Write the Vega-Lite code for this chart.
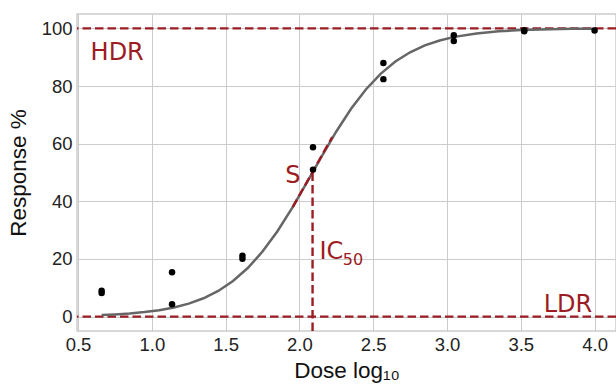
{
  "$schema": "https://vega.github.io/schema/vega-lite/v6.json",
  "width": 539,
  "height": 317,
  "autosize": {"type": "none"},
  "padding": {"left": 77, "top": 14, "right": 0, "bottom": 53},
  "config": {
    "view": {"stroke": "#cccccc", "strokeWidth": 1.5},
    "axis": {
      "grid": true, "gridColor": "#cccccc", "gridWidth": 1,
      "domain": false, "ticks": false, "tickSize": 0,
      "labelFont": "Liberation Sans", "labelFontSize": 18.5, "labelColor": "#222222",
      "labelFlush": false, "labelOverlap": false,
      "titleFont": "Liberation Sans", "titleFontSize": 22.5, "titleColor": "#111111", "titleFontWeight": "normal"
    }
  },
  "datasets": {
    "points": [
      {"x": 0.660, "y": 9.0}, {"x": 0.660, "y": 8.2},
      {"x": 1.137, "y": 15.4}, {"x": 1.137, "y": 4.3},
      {"x": 1.614, "y": 21.1}, {"x": 1.614, "y": 20.1},
      {"x": 2.092, "y": 58.8}, {"x": 2.092, "y": 51.0},
      {"x": 2.569, "y": 88.0}, {"x": 2.569, "y": 82.4},
      {"x": 3.046, "y": 97.6}, {"x": 3.046, "y": 95.6},
      {"x": 3.523, "y": 99.4}, {"x": 3.523, "y": 99.0},
      {"x": 4.000, "y": 99.3}
    ],
    "curve": [
      {"x": 0.66, "y": 0.55}, {"x": 0.75, "y": 0.76}, {"x": 0.85, "y": 1.09}, {"x": 0.95, "y": 1.56},
      {"x": 1.05, "y": 2.23}, {"x": 1.15, "y": 3.18}, {"x": 1.25, "y": 4.51}, {"x": 1.35, "y": 6.36},
      {"x": 1.45, "y": 8.91}, {"x": 1.55, "y": 12.34}, {"x": 1.65, "y": 16.84}, {"x": 1.75, "y": 22.56},
      {"x": 1.85, "y": 29.54}, {"x": 1.95, "y": 37.62}, {"x": 2.05, "y": 46.46}, {"x": 2.15, "y": 55.52},
      {"x": 2.25, "y": 64.24}, {"x": 2.35, "y": 72.10}, {"x": 2.45, "y": 78.80}, {"x": 2.55, "y": 84.25},
      {"x": 2.65, "y": 88.50}, {"x": 2.75, "y": 91.72}, {"x": 2.85, "y": 94.10}, {"x": 2.95, "y": 95.82},
      {"x": 3.05, "y": 97.06}, {"x": 3.20, "y": 98.27}, {"x": 3.35, "y": 98.99}, {"x": 3.50, "y": 99.41},
      {"x": 3.70, "y": 99.72}, {"x": 3.85, "y": 99.84}, {"x": 4.00, "y": 99.90}
    ],
    "tangent": [{"x": 1.955, "y": 38.0}, {"x": 2.222, "y": 62.3}],
    "hlines": [{"y": 100}, {"y": 0}],
    "ic50": [{"x": 2.089, "y": 50, "y2": -5}],
    "leftText": [{"x": 0.585, "y": 88.9, "t": "HDR"}, {"x": 2.136, "y": 20.0, "t": "IC"}],
    "rightText": [{"x": 3.984, "y": 1.5, "t": "LDR"}, {"x": 2.007, "y": 46.2, "t": "S"}],
    "subText": [{"x": 2.294, "y": 17.95, "t": "50"}]
  },
  "layer": [
    {
      "data": {"name": "hlines"},
      "mark": {"type": "rule", "color": "#9c1c24", "strokeWidth": 2.4, "strokeDash": [8.5, 4]},
      "encoding": {
        "y": {"field": "y", "type": "quantitative", "scale": {"domain": [-5, 105], "nice": false, "zero": false},
          "axis": {"values": [0, 20, 40, 60, 80, 100], "labelPadding": 5, "titlePadding": 11, "title": "Response %"}}
      }
    },
    {
      "data": {"name": "curve"},
      "mark": {"type": "line", "color": "#666666", "strokeWidth": 2.5},
      "encoding": {
        "x": {"field": "x", "type": "quantitative", "scale": {"domain": [0.493, 4.145], "nice": false, "zero": false},
          "axis": {"values": [0.5, 1.0, 1.5, 2.0, 2.5, 3.0, 3.5, 4.0], "format": ".1f", "labelPadding": 4, "titlePadding": 6, "title": "Dose log₁₀"}},
        "y": {"field": "y", "type": "quantitative", "scale": {"domain": [-5, 105], "nice": false, "zero": false}}
      }
    },
    {
      "data": {"name": "tangent"},
      "mark": {"type": "line", "color": "#9c1c24", "strokeWidth": 2.4, "strokeDash": [8.5, 4]},
      "encoding": {
        "x": {"field": "x", "type": "quantitative", "scale": {"domain": [0.493, 4.145], "nice": false, "zero": false}},
        "y": {"field": "y", "type": "quantitative", "scale": {"domain": [-5, 105], "nice": false, "zero": false}}
      }
    },
    {
      "data": {"name": "ic50"},
      "mark": {"type": "rule", "color": "#9c1c24", "strokeWidth": 2.4, "strokeDash": [8.5, 4]},
      "encoding": {
        "x": {"field": "x", "type": "quantitative", "scale": {"domain": [0.493, 4.145], "nice": false, "zero": false}},
        "y": {"field": "y", "type": "quantitative", "scale": {"domain": [-5, 105], "nice": false, "zero": false}},
        "y2": {"field": "y2"}
      }
    },
    {
      "data": {"name": "points"},
      "mark": {"type": "point", "filled": true, "color": "#000000", "opacity": 1, "size": 42},
      "encoding": {
        "x": {"field": "x", "type": "quantitative", "scale": {"domain": [0.493, 4.145], "nice": false, "zero": false}},
        "y": {"field": "y", "type": "quantitative", "scale": {"domain": [-5, 105], "nice": false, "zero": false}}
      }
    },
    {
      "data": {"name": "leftText"},
      "mark": {"type": "text", "align": "left", "baseline": "alphabetic", "font": "DejaVu Sans", "fontSize": 24, "color": "#9c1c24"},
      "encoding": {
        "x": {"field": "x", "type": "quantitative", "scale": {"domain": [0.493, 4.145], "nice": false, "zero": false}},
        "y": {"field": "y", "type": "quantitative", "scale": {"domain": [-5, 105], "nice": false, "zero": false}},
        "text": {"field": "t"}
      }
    },
    {
      "data": {"name": "rightText"},
      "mark": {"type": "text", "align": "right", "baseline": "alphabetic", "font": "DejaVu Sans", "fontSize": 24, "color": "#9c1c24"},
      "encoding": {
        "x": {"field": "x", "type": "quantitative", "scale": {"domain": [0.493, 4.145], "nice": false, "zero": false}},
        "y": {"field": "y", "type": "quantitative", "scale": {"domain": [-5, 105], "nice": false, "zero": false}},
        "text": {"field": "t"}
      }
    },
    {
      "data": {"name": "subText"},
      "mark": {"type": "text", "align": "left", "baseline": "alphabetic", "font": "DejaVu Sans", "fontSize": 16, "color": "#9c1c24"},
      "encoding": {
        "x": {"field": "x", "type": "quantitative", "scale": {"domain": [0.493, 4.145], "nice": false, "zero": false}},
        "y": {"field": "y", "type": "quantitative", "scale": {"domain": [-5, 105], "nice": false, "zero": false}},
        "text": {"field": "t"}
      }
    }
  ]
}
